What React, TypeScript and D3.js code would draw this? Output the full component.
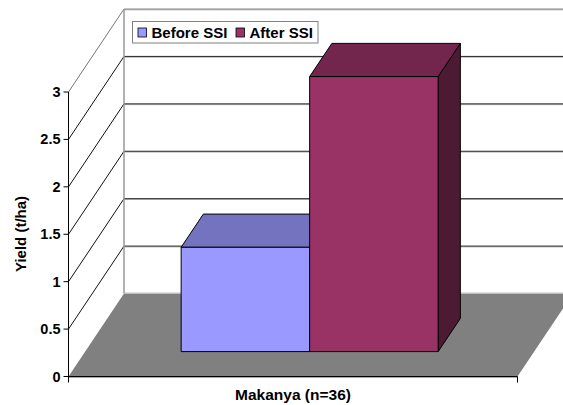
import React from 'react';
import * as d3 from 'd3';

const categoryLabel = 'Makanya (n=36)';
const seriesNames = ['Before SSI', 'After SSI'];
const seriesValues = [1.1, 2.9];
const yTicks = [0, 0.5, 1, 1.5, 2, 2.5, 3];
const frontColors = ['#9999FF', '#993366'];
const topColors = ['#7373BF', '#73264D'];
const sideColors = ['#4D4D80', '#4D1A33'];

const width = 563;
const height = 405;
const font = '"Liberation Sans", Arial, sans-serif';

// front plane of the box, the back wall sits depthX/depthY away from it
const left = 68.5;
const right = 517.5;
const depthX = 55.5;
const depthY = -83;
const barFront = 0.3;
const barBack = 0.7;

const y = d3.scaleLinear().domain([0, 3]).range([376.5, 92]);
const x = d3.scaleBand<string>().domain(seriesNames).range([left, right]).paddingInner(0).paddingOuter(0.747);

const poly = (pts: [number, number][]) => d3.line()(pts) + 'Z';

export default function App() {
  const base = y(0);
  return (
    <svg width={width} height={height} style={{ position: 'absolute', left: 0, top: 0, background: '#fff' }}>
      {/* floor */}
      <path
        d={poly([
          [left, base],
          [right, base],
          [right + depthX, base + depthY],
          [left + depthX, base + depthY],
        ])}
        fill="#808080"
      />
      <line x1={left + depthX} x2={width} y1={base + depthY - 0.5} y2={base + depthY - 0.5} stroke="#c0c0c0" />

      {/* gridlines on side and back walls */}
      {yTicks.slice(1).map((t) => {
        const isTop = t === 3;
        const stroke = isTop ? '#777' : '#111';
        return (
          <g key={t} fill="none">
            <line x1={left} y1={y(t)} x2={left + depthX} y2={y(t) + depthY} stroke={stroke} strokeWidth={1} />
            <line x1={left + depthX} x2={width} y1={y(t) + depthY + 0.8} y2={y(t) + depthY + 0.8} stroke="#999" strokeWidth={0.8} />
            <line x1={left + depthX} x2={width} y1={y(t) + depthY} y2={y(t) + depthY} stroke={stroke} strokeWidth={0.9} />
          </g>
        );
      })}
      <line x1={left + depthX} x2={left + depthX} y1={y(3) + depthY} y2={base + depthY} stroke="#999" strokeWidth={1.5} />

      {/* bars */}
      {seriesNames.map((name, i) => {
        const x0 = x(name)! + depthX * barFront;
        const x1 = x0 + x.bandwidth();
        const yBase = base + depthY * barFront;
        const yTop = y(seriesValues[i]) + depthY * barFront;
        const dx = depthX * (barBack - barFront);
        const dy = depthY * (barBack - barFront);
        return (
          <g key={name} stroke="#000" strokeWidth={1} strokeLinejoin="round">
            <path d={poly([[x1, yBase], [x1 + dx, yBase + dy], [x1 + dx, yTop + dy], [x1, yTop]])} fill={sideColors[i]} />
            <path d={poly([[x0, yTop], [x0 + dx, yTop + dy], [x1 + dx, yTop + dy], [x1, yTop]])} fill={topColors[i]} />
            <rect x={x0} y={yTop} width={x.bandwidth()} height={yBase - yTop} fill={frontColors[i]} />
          </g>
        );
      })}

      {/* axes */}
      <line x1={left} x2={right} y1={base + 1} y2={base + 1} stroke="#aaa" />
      <line x1={left} x2={right} y1={base} y2={base} stroke="#000" />
      <line x1={left} x2={left} y1={y(3)} y2={base + 6} stroke="#000" />
      <line x1={right} x2={right} y1={base} y2={base + 6} stroke="#000" />
      {yTicks.map((t) => (
        <g key={t}>
          <line x1={left - 5} x2={left} y1={y(t)} y2={y(t)} stroke="#000" />
          <text x={left - 8} y={y(t) + 5} textAnchor="end" fontFamily={font} fontWeight="bold" fontSize={14.5} fill="#000">
            {d3.format('~g')(t)}
          </text>
        </g>
      ))}
      <text
        transform="translate(26,234) rotate(-90)"
        textAnchor="middle"
        fontFamily={font}
        fontWeight="bold"
        fontSize={15}
        fill="#000"
      >
        Yield (t/ha)
      </text>
      <text x={293} y={400} textAnchor="middle" fontFamily={font} fontWeight="bold" fontSize={15.5} fill="#000">
        {categoryLabel}
      </text>

      {/* legend */}
      <rect x={132.5} y={21.5} width={185.5} height={21.5} fill="#fff" stroke="#808080" strokeWidth={1} />
      {seriesNames.map((name, i) => {
        const lx = [137.5, 235.5][i];
        return (
          <g key={name}>
            <rect x={lx + 0.5} y={28} width={8.5} height={9} fill={frontColors[i]} stroke="#000" strokeWidth={0.8} />
            <text x={lx + 14} y={38} fontFamily={font} fontWeight="bold" fontSize={15} fill="#000">
              {name}
            </text>
          </g>
        );
      })}
    </svg>
  );
}
